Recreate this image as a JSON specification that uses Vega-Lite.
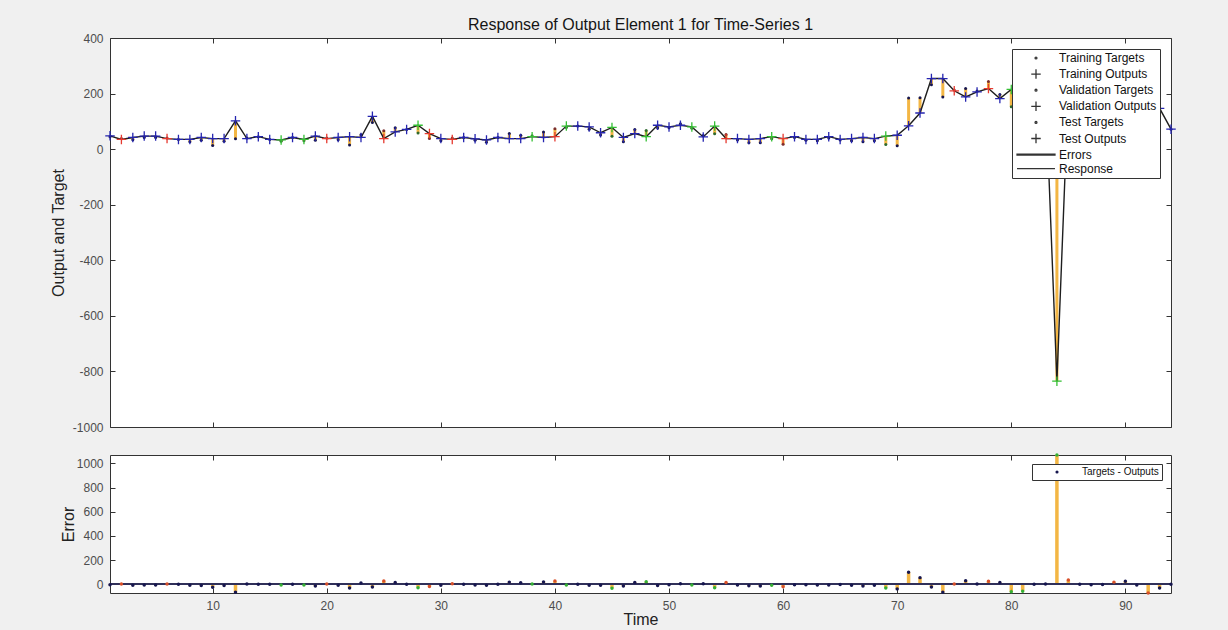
{
  "$schema": "https://vega.github.io/schema/vega-lite/v6.json",
  "background": "#f0f0f0",
  "padding": {"left": 49, "top": 16, "right": 52, "bottom": 10},
  "bounds": "flush",
  "spacing": 28,
  "data": {"values": [
    {"t":1,"ts":"Training Targets","os":"Training Outputs","target":45,"output":48,"err":-3},
    {"t":2,"ts":"Test Targets","os":"Test Outputs","target":38,"output":35,"err":3},
    {"t":3,"ts":"Training Targets","os":"Training Outputs","target":34,"output":42,"err":-8},
    {"t":4,"ts":"Training Targets","os":"Training Outputs","target":42,"output":47,"err":-5},
    {"t":5,"ts":"Training Targets","os":"Training Outputs","target":42,"output":47,"err":-5},
    {"t":6,"ts":"Test Targets","os":"Test Outputs","target":40,"output":38,"err":2},
    {"t":7,"ts":"Training Targets","os":"Training Outputs","target":35,"output":35,"err":0},
    {"t":8,"ts":"Training Targets","os":"Training Outputs","target":27,"output":35,"err":-8},
    {"t":9,"ts":"Training Targets","os":"Training Outputs","target":32,"output":42,"err":-10},
    {"t":10,"ts":"Training Targets","os":"Training Outputs","target":13,"output":38,"err":-25},
    {"t":11,"ts":"Training Targets","os":"Training Outputs","target":28,"output":38,"err":-10},
    {"t":12,"ts":"Training Targets","os":"Training Outputs","target":37,"output":102,"err":-65},
    {"t":13,"ts":"Training Targets","os":"Training Outputs","target":40,"output":38,"err":2},
    {"t":14,"ts":"Training Targets","os":"Training Outputs","target":45,"output":45,"err":0},
    {"t":15,"ts":"Training Targets","os":"Training Outputs","target":35,"output":35,"err":0},
    {"t":16,"ts":"Validation Targets","os":"Validation Outputs","target":28,"output":33,"err":-5},
    {"t":17,"ts":"Training Targets","os":"Training Outputs","target":42,"output":42,"err":0},
    {"t":18,"ts":"Validation Targets","os":"Validation Outputs","target":30,"output":35,"err":-5},
    {"t":19,"ts":"Training Targets","os":"Training Outputs","target":32,"output":47,"err":-15},
    {"t":20,"ts":"Test Targets","os":"Test Outputs","target":40,"output":38,"err":2},
    {"t":21,"ts":"Training Targets","os":"Training Outputs","target":34,"output":42,"err":-8},
    {"t":22,"ts":"Training Targets","os":"Training Outputs","target":15,"output":45,"err":-30},
    {"t":23,"ts":"Training Targets","os":"Training Outputs","target":52,"output":42,"err":10},
    {"t":24,"ts":"Training Targets","os":"Training Outputs","target":96,"output":118,"err":-22},
    {"t":25,"ts":"Test Targets","os":"Test Outputs","target":66,"output":38,"err":28},
    {"t":26,"ts":"Training Targets","os":"Training Outputs","target":77,"output":62,"err":15},
    {"t":27,"ts":"Training Targets","os":"Training Outputs","target":71,"output":71,"err":0},
    {"t":28,"ts":"Validation Targets","os":"Validation Outputs","target":58,"output":86,"err":-28},
    {"t":29,"ts":"Test Targets","os":"Test Outputs","target":38,"output":56,"err":-18},
    {"t":30,"ts":"Training Targets","os":"Training Outputs","target":30,"output":38,"err":-8},
    {"t":31,"ts":"Test Targets","os":"Test Outputs","target":40,"output":35,"err":5},
    {"t":32,"ts":"Training Targets","os":"Training Outputs","target":42,"output":42,"err":0},
    {"t":33,"ts":"Training Targets","os":"Training Outputs","target":32,"output":37,"err":-5},
    {"t":34,"ts":"Training Targets","os":"Training Outputs","target":25,"output":33,"err":-8},
    {"t":35,"ts":"Training Targets","os":"Training Outputs","target":42,"output":42,"err":0},
    {"t":36,"ts":"Training Targets","os":"Training Outputs","target":56,"output":38,"err":18},
    {"t":37,"ts":"Training Targets","os":"Training Outputs","target":50,"output":38,"err":12},
    {"t":38,"ts":"Validation Targets","os":"Validation Outputs","target":48,"output":45,"err":3},
    {"t":39,"ts":"Training Targets","os":"Training Outputs","target":62,"output":42,"err":20},
    {"t":40,"ts":"Test Targets","os":"Test Outputs","target":73,"output":45,"err":28},
    {"t":41,"ts":"Validation Targets","os":"Validation Outputs","target":78,"output":83,"err":-5},
    {"t":42,"ts":"Training Targets","os":"Training Outputs","target":83,"output":83,"err":0},
    {"t":43,"ts":"Training Targets","os":"Training Outputs","target":72,"output":80,"err":-8},
    {"t":44,"ts":"Training Targets","os":"Training Outputs","target":51,"output":59,"err":-8},
    {"t":45,"ts":"Validation Targets","os":"Validation Outputs","target":46,"output":78,"err":-32},
    {"t":46,"ts":"Training Targets","os":"Training Outputs","target":27,"output":42,"err":-15},
    {"t":47,"ts":"Training Targets","os":"Training Outputs","target":71,"output":56,"err":15},
    {"t":48,"ts":"Validation Targets","os":"Validation Outputs","target":67,"output":45,"err":22},
    {"t":49,"ts":"Training Targets","os":"Training Outputs","target":76,"output":86,"err":-10},
    {"t":50,"ts":"Training Targets","os":"Training Outputs","target":77,"output":80,"err":-3},
    {"t":51,"ts":"Training Targets","os":"Training Outputs","target":91,"output":86,"err":5},
    {"t":52,"ts":"Validation Targets","os":"Validation Outputs","target":75,"output":80,"err":-5},
    {"t":53,"ts":"Training Targets","os":"Training Outputs","target":49,"output":44,"err":5},
    {"t":54,"ts":"Validation Targets","os":"Validation Outputs","target":55,"output":83,"err":-28},
    {"t":55,"ts":"Test Targets","os":"Test Outputs","target":53,"output":38,"err":15},
    {"t":56,"ts":"Training Targets","os":"Training Outputs","target":33,"output":38,"err":-5},
    {"t":57,"ts":"Training Targets","os":"Training Outputs","target":23,"output":35,"err":-12},
    {"t":58,"ts":"Training Targets","os":"Training Outputs","target":23,"output":38,"err":-15},
    {"t":59,"ts":"Validation Targets","os":"Validation Outputs","target":37,"output":45,"err":-8},
    {"t":60,"ts":"Test Targets","os":"Test Outputs","target":18,"output":38,"err":-20},
    {"t":61,"ts":"Training Targets","os":"Training Outputs","target":42,"output":45,"err":-3},
    {"t":62,"ts":"Training Targets","os":"Training Outputs","target":32,"output":35,"err":-3},
    {"t":63,"ts":"Training Targets","os":"Training Outputs","target":30,"output":35,"err":-5},
    {"t":64,"ts":"Training Targets","os":"Training Outputs","target":40,"output":45,"err":-5},
    {"t":65,"ts":"Training Targets","os":"Training Outputs","target":33,"output":35,"err":-2},
    {"t":66,"ts":"Training Targets","os":"Training Outputs","target":30,"output":38,"err":-8},
    {"t":67,"ts":"Training Targets","os":"Training Outputs","target":27,"output":42,"err":-15},
    {"t":68,"ts":"Training Targets","os":"Training Outputs","target":30,"output":38,"err":-8},
    {"t":69,"ts":"Validation Targets","os":"Validation Outputs","target":17,"output":47,"err":-30},
    {"t":70,"ts":"Training Targets","os":"Training Outputs","target":12,"output":50,"err":-38},
    {"t":71,"ts":"Training Targets","os":"Training Outputs","target":184,"output":84,"err":100},
    {"t":72,"ts":"Training Targets","os":"Training Outputs","target":185,"output":130,"err":55},
    {"t":73,"ts":"Training Targets","os":"Training Outputs","target":232,"output":254,"err":-22},
    {"t":74,"ts":"Training Targets","os":"Training Outputs","target":188,"output":254,"err":-66},
    {"t":75,"ts":"Test Targets","os":"Test Outputs","target":213,"output":210,"err":3},
    {"t":76,"ts":"Training Targets","os":"Training Outputs","target":218,"output":188,"err":30},
    {"t":77,"ts":"Training Targets","os":"Training Outputs","target":209,"output":206,"err":3},
    {"t":78,"ts":"Test Targets","os":"Test Outputs","target":243,"output":218,"err":25},
    {"t":79,"ts":"Training Targets","os":"Training Outputs","target":197,"output":182,"err":15},
    {"t":80,"ts":"Validation Targets","os":"Validation Outputs","target":153,"output":215,"err":-62},
    {"t":81,"ts":"Validation Targets","os":"Validation Outputs","target":171,"output":228,"err":-57},
    {"t":82,"ts":"Training Targets","os":"Training Outputs","target":225,"output":225,"err":0},
    {"t":83,"ts":"Training Targets","os":"Training Outputs","target":224,"output":222,"err":2},
    {"t":84,"ts":"Validation Targets","os":"Validation Outputs","target":234,"output":-835,"err":1069},
    {"t":85,"ts":"Test Targets","os":"Test Outputs","target":247,"output":212,"err":35},
    {"t":86,"ts":"Training Targets","os":"Training Outputs","target":220,"output":220,"err":0},
    {"t":87,"ts":"Training Targets","os":"Training Outputs","target":211,"output":215,"err":-4},
    {"t":88,"ts":"Training Targets","os":"Training Outputs","target":203,"output":205,"err":-2},
    {"t":89,"ts":"Test Targets","os":"Test Outputs","target":223,"output":205,"err":18},
    {"t":90,"ts":"Training Targets","os":"Training Outputs","target":225,"output":200,"err":25},
    {"t":91,"ts":"Training Targets","os":"Training Outputs","target":185,"output":190,"err":-5},
    {"t":92,"ts":"Test Targets","os":"Test Outputs","target":106,"output":178,"err":-72},
    {"t":93,"ts":"Training Targets","os":"Training Outputs","target":117,"output":147,"err":-30},
    {"t":94,"ts":"Training Targets","os":"Training Outputs","target":72,"output":72,"err":0}
  ]},
  "vconcat": [
    {
      "width": 1061,
      "height": 389,
      "title": {"text": "Response of Output Element 1 for Time-Series 1", "fontSize": 16, "fontWeight": "normal", "color": "#151515", "anchor": "middle", "frame": "group", "baseline": "alphabetic", "offset": -14},
      "resolve": {"axis": {"x": "independent", "y": "independent"}},
      "layer": [
        {
          "mark": {"type": "rule", "strokeWidth": 3, "color": "#f2ae30", "opacity": 0.9},
          "encoding": {
            "x": {"field": "t", "type": "quantitative", "scale": {"domain": [1, 94], "nice": false, "zero": false},
                  "axis": {"values": [10, 20, 30, 40, 50, 60, 70, 80, 90], "labels": false, "title": null, "domain": false}},
            "y": {"field": "target", "type": "quantitative", "scale": {"domain": [-1000, 400], "nice": false, "zero": false},
                  "axis": {"values": [-1000, -800, -600, -400, -200, 0, 200, 400], "labelExpr": "datum.value + ''", "title": "Output and Target", "domain": false, "titlePadding": 6}},
            "y2": {"field": "output"}
          }
        },
        {
          "mark": {"type": "line", "strokeWidth": 1.4, "color": "#1e1e1e"},
          "encoding": {
            "x": {"field": "t", "type": "quantitative", "axis": {"orient": "top", "values": [10, 20, 30, 40, 50, 60, 70, 80, 90], "labels": false, "title": null, "domain": false, "minExtent": 0}},
            "y": {"field": "output", "type": "quantitative", "axis": {"orient": "right", "values": [-1000, -800, -600, -400, -200, 0, 200, 400], "labels": false, "title": null, "domain": false, "minExtent": 0}}
          }
        },
        {
          "mark": {"type": "point", "filled": true, "shape": "circle", "size": 9, "opacity": 1},
          "encoding": {
            "x": {"field": "t", "type": "quantitative", "axis": null},
            "y": {"field": "target", "type": "quantitative", "axis": null},
            "fill": {"field": "ts", "type": "nominal", "legend": null,
              "scale": {"domain": ["Training Targets", "Validation Targets", "Test Targets"], "range": ["#16164f", "#2f6a2f", "#7a2e2e"]}}
          }
        },
        {
          "mark": {"type": "point", "filled": false, "size": 90, "strokeWidth": 1.3, "opacity": 1},
          "encoding": {
            "x": {"field": "t", "type": "quantitative", "axis": null},
            "y": {"field": "output", "type": "quantitative", "axis": null},
            "color": {"field": "os", "type": "nominal", "legend": null,
              "scale": {"domain": ["Training Targets", "Training Outputs", "Validation Targets", "Validation Outputs", "Test Targets", "Test Outputs", "Errors", "Response"],
                        "range": ["#16164f", "#2525b0", "#5c8c5c", "#35c035", "#8a4a4a", "#e63a30", "#f2ae30", "#1e1e1e"]}},
            "shape": {"field": "os", "type": "nominal",
              "scale": {"domain": ["Training Targets", "Training Outputs", "Validation Targets", "Validation Outputs", "Test Targets", "Test Outputs", "Errors", "Response"],
                        "range": ["M-0.2,0A0.2,0.2 0 1,0 0.2,0A0.2,0.2 0 1,0 -0.2,0Z", "M-1,0H1M0,-1V1", "M-0.2,0A0.2,0.2 0 1,0 0.2,0A0.2,0.2 0 1,0 -0.2,0Z", "M-1,0H1M0,-1V1", "M-0.2,0A0.2,0.2 0 1,0 0.2,0A0.2,0.2 0 1,0 -0.2,0Z", "M-1,0H1M0,-1V1", "M-4,-0.12H4V0.12H-4Z", "M-4,0H4"]},
              "legend": {"title": null, "symbolStrokeColor": "#333333",
                         "encode": {"symbols": {"stroke": {"value": {"expr": "datum.value=='Training Targets' ? '#16164f' : (datum.value=='Training Outputs' ? '#2525b0' : (datum.value=='Validation Targets' ? '#5c8c5c' : (datum.value=='Validation Outputs' ? '#35c035' : (datum.value=='Test Targets' ? '#8a4a4a' : (datum.value=='Test Outputs' ? '#e63a30' : (datum.value=='Errors' ? '#f2ae30' : '#1e1e1e'))))))"}}}}}}
          }
        }
      ]
    },
    {
      "width": 1061,
      "height": 138,
      "resolve": {"axis": {"x": "independent", "y": "independent"}},
      "layer": [
        {
          "mark": {"type": "rule", "strokeWidth": 3.5, "color": "#f2ae30", "opacity": 0.9},
          "encoding": {
            "x": {"field": "t", "type": "quantitative", "scale": {"domain": [1, 94], "nice": false, "zero": false},
                  "axis": {"values": [10, 20, 30, 40, 50, 60, 70, 80, 90], "title": "Time", "domain": false, "titlePadding": 0}},
            "y": {"field": "err", "type": "quantitative", "scale": {"domain": [-72, 1069], "nice": false, "zero": false},
                  "axis": {"values": [0, 200, 400, 600, 800, 1000], "format": "d", "title": "Error", "domain": false, "titlePadding": 0}},
            "y2": {"datum": 0}
          }
        },
        {
          "mark": {"type": "rule", "strokeWidth": 1.2, "color": "#30305a"},
          "encoding": {
            "y": {"datum": 0, "type": "quantitative", "axis": {"orient": "right", "values": [0, 200, 400, 600, 800, 1000], "labels": false, "title": null, "domain": false, "minExtent": 0}}
          }
        },
        {
          "mark": {"type": "point", "filled": true, "shape": "circle", "size": 12, "opacity": 1},
          "encoding": {
            "x": {"field": "t", "type": "quantitative", "axis": {"orient": "top", "values": [10, 20, 30, 40, 50, 60, 70, 80, 90], "labels": false, "title": null, "domain": false, "minExtent": 0}},
            "y": {"field": "err", "type": "quantitative", "axis": null},
            "color": {"field": "os", "type": "nominal",
              "scale": {"domain": ["Training Outputs", "Validation Outputs", "Test Outputs"], "range": ["#16164f", "#35b035", "#d8502a"]},
              "legend": {"title": null, "values": ["Training Outputs"], "labelExpr": "'Targets - Outputs'", "orient": "top-right", "offset": 9,
                         "fillColor": "white", "strokeColor": "#333333", "padding": 3, "labelFontSize": 10, "labelColor": "#111111", "clipHeight": 10,
                         "symbolType": "circle", "symbolSize": 10, "symbolOffset": 17, "labelOffset": 20}}
          }
        }
      ]
    }
  ],
  "resolve": {"scale": {"color": "independent"}, "legend": {"color": "independent"}},
  "config": {
    "font": "Liberation Sans",
    "view": {"fill": "white", "stroke": "#333333", "strokeWidth": 1},
    "axis": {"grid": false, "labelFontSize": 12, "labelColor": "#4d4d4d", "titleFontSize": 16, "titleFontWeight": "normal", "titleColor": "#222222",
             "tickColor": "#333333", "tickSize": -5, "labelPadding": 12, "domainColor": "#333333"},
    "legend": {"orient": "top-right", "offset": 11, "fillColor": "white", "strokeColor": "#333333", "padding": 3, "labelFontSize": 12,
               "labelColor": "#111111", "rowPadding": 2.1, "symbolSize": 90, "symbolStrokeWidth": 1.3, "symbolOffset": 15, "labelOffset": 17, "columns": 1}
  }
}
